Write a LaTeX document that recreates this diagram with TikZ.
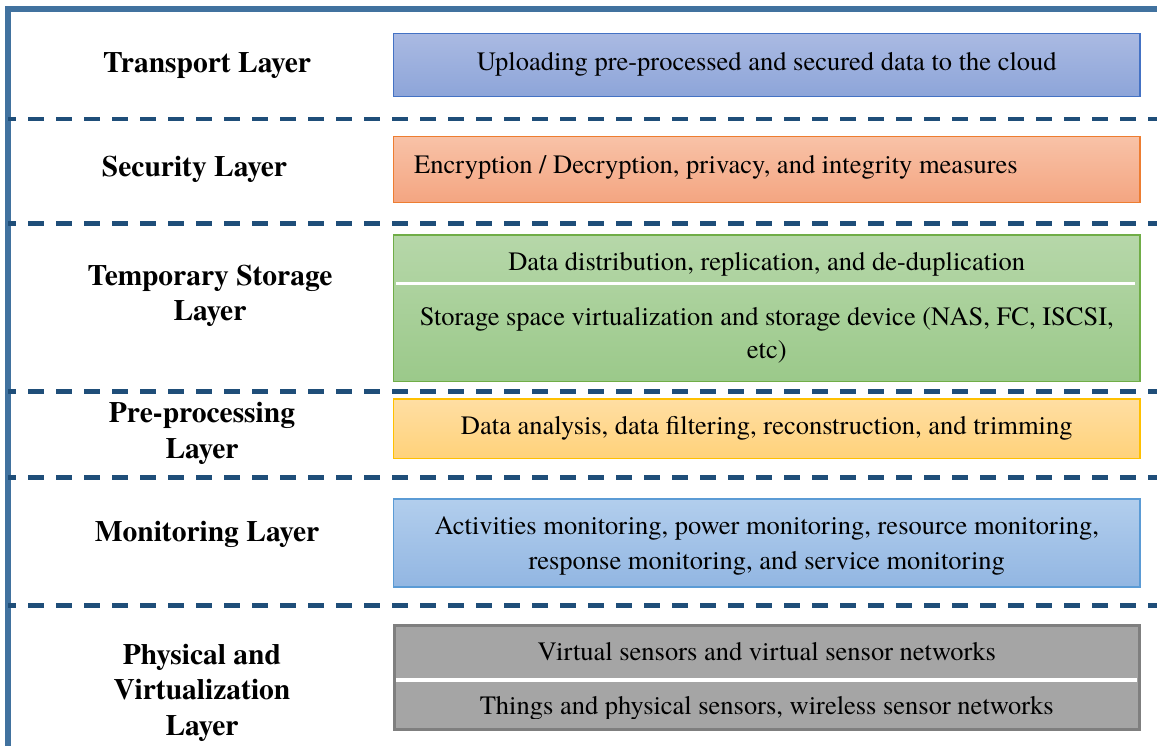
\documentclass[tikz,border=0pt]{standalone}
\usepackage{fontspec}
\setmainfont{texgyretermes}[Extension=.otf, UprightFont=*-regular, BoldFont=*-bold, ItalicFont=*-italic, BoldItalicFont=*-bolditalic]
\definecolor{frameblue}{HTML}{41729F}
\definecolor{dashblue}{HTML}{1F4E79}
\definecolor{tbTop}{HTML}{AABAE2}
\definecolor{tbBot}{HTML}{8DA5D9}
\definecolor{tbLine}{HTML}{4472C4}
\definecolor{scTop}{HTML}{F8C2A7}
\definecolor{scBot}{HTML}{F4A581}
\definecolor{scLine}{HTML}{ED7D31}
\definecolor{stTop}{HTML}{B6D7A9}
\definecolor{stBot}{HTML}{9BC98A}
\definecolor{stLine}{HTML}{70AD47}
\definecolor{ppTop}{HTML}{FFDEA3}
\definecolor{ppBot}{HTML}{FFD27A}
\definecolor{ppLine}{HTML}{FFC000}
\definecolor{mnTop}{HTML}{B2CEED}
\definecolor{mnBot}{HTML}{92B6E2}
\definecolor{mnLine}{HTML}{5B9BD5}
\definecolor{phFill}{HTML}{A5A5A5}
\definecolor{phLine}{HTML}{7F7F7F}
\newcommand{\mylines}[1]{\begin{tabular}[t]{@{}c@{}}#1\end{tabular}}
\begin{document}
\begin{tikzpicture}[x=1pt,y=-1pt,
  frame/.style={draw=frameblue, line width=6pt},
  sep/.style={draw=dashblue, line width=4.5pt, dash pattern=on 16pt off 12pt, dash phase=8pt},
  lbl/.style={font=\fontsize{29.5}{35.5}\selectfont\bfseries, anchor=base, inner sep=0pt},
  txt/.style={font=\fontsize{26.5}{33.5}\selectfont, anchor=base, inner sep=0pt},
  layerbox/.style={rectangle, inner sep=0pt, minimum width=746.5pt, line width=1.2pt},
  divider/.style={draw=white, line width=3.5pt}
]
\useasboundingbox (0,0) rectangle (1157,746);
\clip (0,0) rectangle (1157,746);
% boxes
\node[layerbox, draw=tbLine, top color=tbTop, bottom color=tbBot, minimum height=63pt] (tbox) at (766.75,65) {};
\node[layerbox, draw=scLine, top color=scTop, bottom color=scBot, minimum height=66pt] (sbox) at (766.75,169.7) {};
\node[layerbox, draw=stLine, top color=stTop, bottom color=stBot, minimum height=146.7pt] (gbox) at (766.75,308.35) {};
\node[layerbox, draw=ppLine, top color=ppTop, bottom color=ppBot, minimum height=59.3pt] (ybox) at (766.75,428.65) {};
\node[layerbox, draw=mnLine, top color=mnTop, bottom color=mnBot, minimum height=88pt] (mbox) at (766.75,543) {};
\node[layerbox, draw=phLine, fill=phFill, line width=3pt, minimum width=745pt, minimum height=104pt] (pbox) at (766.5,677.5) {};
% white dividers
\coordinate (gl) at (396,283.5);
\coordinate (gr) at (1135,283.5);
\draw[divider] (gl) -- (gr);
\coordinate (pl) at (396,680);
\coordinate (pr) at (1137,680);
\draw[divider, line width=4pt] (pl) -- (pr);
% frame
\coordinate (fbl) at (8,760);
\coordinate (ftl) at (8,9);
\coordinate (ftr) at (1170,9);
\draw[frame] (fbl) -- (ftl) -- (ftr);
% dashed separators
\foreach \yy/\nm in {119/a,223.3/b,391.7/c,477.3/d,605.7/e}{
  \coordinate (sepL\nm) at (8,\yy);
  \coordinate (sepR\nm) at (1157,\yy);
  \draw[sep] (sepL\nm) -- (sepR\nm);
}
% left labels
\node[lbl] (l1) at (207,73) {Transport Layer};
\node[lbl] (l2) at (194.5,177) {Security Layer};
\node[lbl] (l3) at (210,285) {\mylines{Temporary Storage\\Layer}};
\node[lbl] (l4) at (202,422.7) {\mylines{Pre-processing\\Layer}};
\node[lbl] (l5) at (207,541.7) {Monitoring Layer};
\node[lbl] (l6) at (202,664) {\mylines{Physical and\\Virtualization\\Layer}};
% box texts
\node[txt] (t1) at (766.75,71) {Uploading pre-processed and secured data to the cloud};
\node[txt, anchor=base west] (t2) at (414,173.5) {Encryption / Decryption, privacy, and integrity measures};
\node[txt] (t3a) at (766.75,270.7) {Data distribution, replication, and de-duplication};
\node[txt] (t3b) at (766.75,325) {\mylines{Storage space virtualization and storage device (NAS, FC, ISCSI,\\etc)}};
\node[txt] (t4) at (766.75,434) {Data analysis, data filtering, reconstruction, and trimming};
\node[txt, font=\fontsize{26.5}{34.7}\selectfont] (t5) at (766.75,534.3) {\mylines{Activities monitoring, power monitoring, resource monitoring,\\response monitoring, and service monitoring}};
\node[txt] (t6a) at (766.75,660.7) {Virtual sensors and virtual sensor networks};
\begin{scope}
\clip (396,690) rectangle (1137,718);
\node[txt] (t6b) at (766.75,714) {Things and physical sensors, wireless sensor networks};
\end{scope}
\end{tikzpicture}
\end{document}
